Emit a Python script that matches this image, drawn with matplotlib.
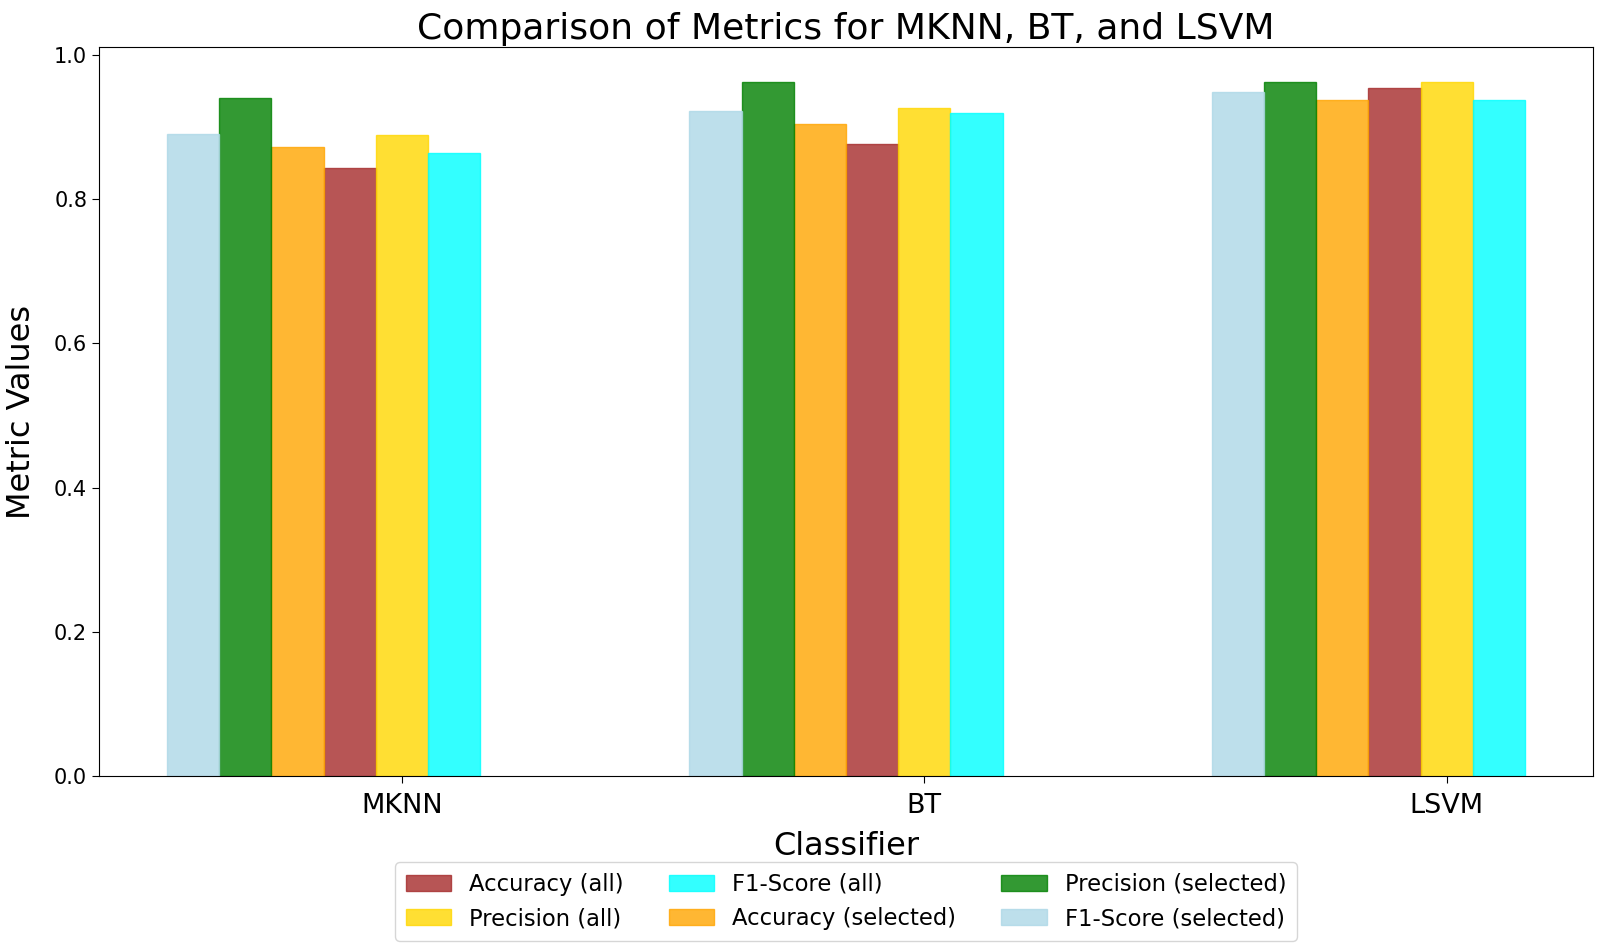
# Balkendiagramm: Vergleich der Metriken für MKNN, BT und LSVM

import matplotlib
matplotlib.use("Agg")
import matplotlib.pyplot as plt
import numpy as np

# Daten
classifiers = ["MKNN", "BT", "LSVM"]
accuracy_all = [0.843, 0.877, 0.954]
precision_all = [0.889, 0.927, 0.963]
f1_all = [0.864, 0.919, 0.937]
accuracy_sel = [0.873, 0.905, 0.938]
precision_sel = [0.941, 0.963, 0.963]
f1_sel = [0.890, 0.922, 0.949]

x = np.arange(len(classifiers))
width = 0.1

fig = plt.figure(figsize=(16, 9.47), dpi=100)
ax = fig.add_axes([0.0619, 0.1806, 0.9337, 0.7698])

# Balken zeichnen
ax.bar(x, accuracy_all, width, label="Accuracy (all)", color="brown", edgecolor="brown", alpha=0.8)
ax.bar(x + width, precision_all, width, label="Precision (all)", color="gold", edgecolor="gold", alpha=0.8)
ax.bar(x + 2 * width, f1_all, width, label="F1-Score (all)", color="cyan", edgecolor="cyan", alpha=0.8)
ax.bar(x - width, accuracy_sel, width, label="Accuracy (selected)", color="orange", edgecolor="orange", alpha=0.8)
ax.bar(x - 2 * width, precision_sel, width, label="Precision (selected)", color="green", edgecolor="green", alpha=0.8)
ax.bar(x - 3 * width, f1_sel, width, label="F1-Score (selected)", color="lightblue", edgecolor="lightblue", alpha=0.8)

# Beschriftungen
ax.set_title("Comparison of Metrics for MKNN, BT, and LSVM", fontsize=26, pad=6)
ax.set_xlabel("Classifier", fontsize=23, labelpad=9)
ax.set_ylabel("Metric Values", fontsize=23, labelpad=12)
ax.set_xticks(x + width)
ax.set_xticklabels(classifiers, fontsize=19.5)
ax.tick_params(axis="x", length=5, pad=7)
ax.tick_params(axis="y", labelsize=15, length=5)

ax.legend(loc="upper center", bbox_to_anchor=(0.5, -0.103), ncol=3, fontsize=16.3,
          labelspacing=0.52, borderpad=0.45)

fig.savefig("out.png", dpi=100)
